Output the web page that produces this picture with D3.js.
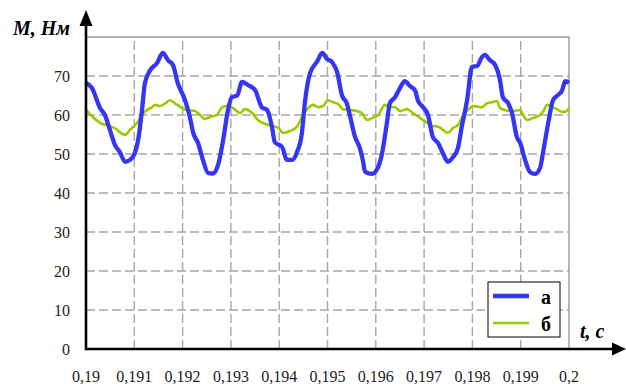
<!DOCTYPE html>
<html>
<head>
<meta charset="utf-8">
<script src="https://cdn.jsdelivr.net/npm/d3@7"></script>
<style>
  body { margin: 0; background: #fff; }
</style>
</head>
<body>
<div id="chart"></div>
<script>
// time, s
const timeA = [0.19000,0.19012,0.19029,0.19039,0.19050,0.19060,0.19070,0.19081,0.19091,0.19101,0.19108,0.19116,0.19122,0.19133,0.19147,0.19159,0.19170,0.19180,0.19190,0.19205,0.19215,0.19222,0.19232,0.19242,0.19253,0.19263,0.19273,0.19284,0.19294,0.19302,0.19313,0.19323,0.19335,0.19350,0.19364,0.19375,0.19385,0.19391,0.19406,0.19416,0.19427,0.19437,0.19447,0.19453,0.19464,0.19478,0.19489,0.19499,0.19509,0.19520,0.19530,0.19540,0.19547,0.19557,0.19567,0.19573,0.19578,0.19592,0.19605,0.19613,0.19623,0.19629,0.19640,0.19650,0.19660,0.19671,0.19681,0.19687,0.19698,0.19708,0.19718,0.19729,0.19739,0.19749,0.19760,0.19770,0.19778,0.19789,0.19799,0.19810,0.19820,0.19826,0.19836,0.19847,0.19857,0.19863,0.19874,0.19882,0.19892,0.19899,0.19909,0.19919,0.19930,0.19940,0.19946,0.19957,0.19967,0.19977,0.19986,0.19992,0.20000];
// torque, N*m (curve a)
const torqueA = [68.2,67,61.8,60,56,52.3,50.5,48,48.5,50.2,53.6,61.3,68.2,71.5,73.3,75.9,74,72.8,68.2,63.8,59.5,55.4,52.8,48.5,45.1,45,47,53.6,61.3,64.6,65,68.5,67.7,66.4,62,61.3,57,53,51.8,48.5,48.5,50.5,55.4,63,70.8,73.6,75.9,74.4,73.6,71,65,63,59.5,54.4,51.5,48.5,45.4,44.9,46.7,50.2,58,63,64.6,66.9,68.7,67.4,66.4,63.8,62,60,54.4,52.8,50.2,48,49.2,51.5,57,63.8,72.3,72.6,74.9,75.4,74.1,72.8,69,64.6,63,60.5,54.4,52.8,48.5,45.4,44.9,46.4,50.2,58,63.8,65.1,66.4,68.7,68.2];

const timeB = [0.19000,0.19014,0.19029,0.19043,0.19060,0.19070,0.19081,0.19091,0.19106,0.19116,0.19126,0.19137,0.19143,0.19153,0.19164,0.19174,0.19184,0.19199,0.19209,0.19226,0.19236,0.19246,0.19257,0.19271,0.19282,0.19294,0.19304,0.19319,0.19329,0.19344,0.19356,0.19371,0.19385,0.19398,0.19408,0.19422,0.19437,0.19447,0.19458,0.19470,0.19480,0.19491,0.19501,0.19511,0.19522,0.19532,0.19547,0.19561,0.19571,0.19582,0.19592,0.19605,0.19619,0.19629,0.19640,0.19650,0.19665,0.19677,0.19692,0.19706,0.19718,0.19729,0.19739,0.19749,0.19760,0.19770,0.19781,0.19791,0.19801,0.19820,0.19830,0.19841,0.19851,0.19857,0.19867,0.19882,0.19899,0.19905,0.19913,0.19925,0.19940,0.19946,0.19955,0.19965,0.19975,0.19986,0.19992,0.20000];
// torque, N*m (curve б)
const torqueB = [61.3,59.5,58,57.4,56.6,55.6,54.9,56.2,58,60,61.3,62,62.6,62.3,63,63.8,63,61.8,61.3,61,60,59,59.5,60,62,62.3,61.8,60.5,61.5,60.5,58.7,57.7,57.2,56.7,55.4,55.9,57,59.5,61.5,62.6,62,62.3,63.8,63.3,62.8,61.5,61.3,61,60.5,58.7,59.2,60,62.6,62,62,61,61.5,60.5,59.2,58,57.2,57,56.2,55.4,56.7,57.4,60,61.3,62.3,62,63,63.3,63.6,61.8,61.3,61,61.3,60,58.7,59.2,60,60.8,62.6,62,61.5,60.8,60.8,61.8];

const xTicks = [0.19,0.191,0.192,0.193,0.194,0.195,0.196,0.197,0.198,0.199,0.2];
const xTickLabels = ["0,19","0,191","0,192","0,193","0,194","0,195","0,196","0,197","0,198","0,199","0,2"];
const yTicks = [0,10,20,30,40,50,60,70];
const seriesNames = ["а","б"];
const colors = ["#3535f5","#99cc00"];

const serif = '"Liberation Serif", "Times New Roman", serif';

const width = 626, height = 384;
const svg = d3.select("#chart").append("svg")
  .attr("width", width)
  .attr("height", height);

const x = d3.scaleLinear().domain([0.19, 0.2]).range([86, 569]);
const y = d3.scaleLinear().domain([0, 80]).range([349, 37]);

// grid
const grid = svg.append("g")
  .attr("stroke", "#a6a6a6")
  .attr("stroke-width", 1.4)
  .attr("stroke-dasharray", "9,4");
grid.selectAll(".gx").data(xTicks.slice(1, -1)).enter().append("line")
  .attr("x1", d => x(d)).attr("x2", d => x(d))
  .attr("y1", y(0)).attr("y2", y(80));
grid.selectAll(".gy").data(yTicks.slice(1)).enter().append("line")
  .attr("x1", x(0.19)).attr("x2", x(0.2))
  .attr("y1", d => y(d)).attr("y2", d => y(d));

// frame (top / right)
svg.append("path")
  .attr("d", `M${x(0.19)},${y(80)}H${x(0.2)}V${y(0)}`)
  .attr("fill", "none")
  .attr("stroke", "#999")
  .attr("stroke-width", 1.4);

// curves
const line = d3.line()
  .x(d => x(d[0]))
  .y(d => y(d[1]))
  .curve(d3.curveMonotoneX);

svg.append("path")
  .datum(d3.zip(timeB, torqueB))
  .attr("d", line)
  .attr("fill", "none")
  .attr("stroke", colors[1])
  .attr("stroke-width", 2.6)
  .attr("stroke-linejoin", "round");

svg.append("path")
  .datum(d3.zip(timeA, torqueA))
  .attr("d", line)
  .attr("fill", "none")
  .attr("stroke", colors[0])
  .attr("stroke-width", 4.3)
  .attr("stroke-linejoin", "round");

// axes with arrows
svg.append("line")
  .attr("x1", x(0.19)).attr("x2", 614)
  .attr("y1", y(0)).attr("y2", y(0))
  .attr("stroke", "#000").attr("stroke-width", 2.6);
svg.append("path")
  .attr("d", `M626,${y(0)}L612,${y(0) - 6.5}L612,${y(0) + 6.5}Z`)
  .attr("fill", "#000");
svg.append("line")
  .attr("x1", x(0.19)).attr("x2", x(0.19))
  .attr("y1", y(0) + 1.3).attr("y2", 24)
  .attr("stroke", "#000").attr("stroke-width", 2.6);
svg.append("path")
  .attr("d", `M${x(0.19)},10L${x(0.19) - 6.5},26L${x(0.19) + 6.5},26Z`)
  .attr("fill", "#000");

// tick labels
svg.append("g").selectAll("text").data(yTicks).enter().append("text")
  .attr("x", 70)
  .attr("y", d => y(d) + 5.5)
  .attr("text-anchor", "end")
  .style("font-family", serif)
  .style("font-size", "16px")
  .attr("fill", "#222")
  .text(d => d);

svg.append("g").selectAll("text").data(xTicks).enter().append("text")
  .attr("x", d => x(d))
  .attr("y", 382)
  .attr("text-anchor", "middle")
  .style("font-family", serif)
  .style("font-size", "16px")
  .attr("fill", "#222")
  .text((d, i) => xTickLabels[i]);

// axis titles
svg.append("text")
  .attr("x", 70).attr("y", 35)
  .attr("text-anchor", "end")
  .style("font-family", serif)
  .style("font-size", "20px")
  .style("font-weight", "bold")
  .style("font-style", "italic")
  .text("M, Нм");

svg.append("text")
  .attr("x", 580).attr("y", 338)
  .style("font-family", serif)
  .style("font-size", "20px")
  .style("font-weight", "bold")
  .style("font-style", "italic")
  .text("t, с");

// legend
const legend = svg.append("g").attr("transform", "translate(488,282)");
legend.append("rect")
  .attr("width", 72).attr("height", 55)
  .attr("fill", "#fff")
  .attr("stroke", "#000")
  .attr("stroke-width", 1);
seriesNames.forEach((name, i) => {
  legend.append("line")
    .attr("x1", 5).attr("x2", 41)
    .attr("y1", 14 + i * 27).attr("y2", 14 + i * 27)
    .attr("stroke", colors[i])
    .attr("stroke-width", i === 0 ? 4.3 : 2.6);
  legend.append("text")
    .attr("x", 53).attr("y", 22 + i * 27)
    .style("font-family", serif)
    .style("font-size", "20px")
    .style("font-weight", "bold")
    .text(name);
});
</script>
</body>
</html>
